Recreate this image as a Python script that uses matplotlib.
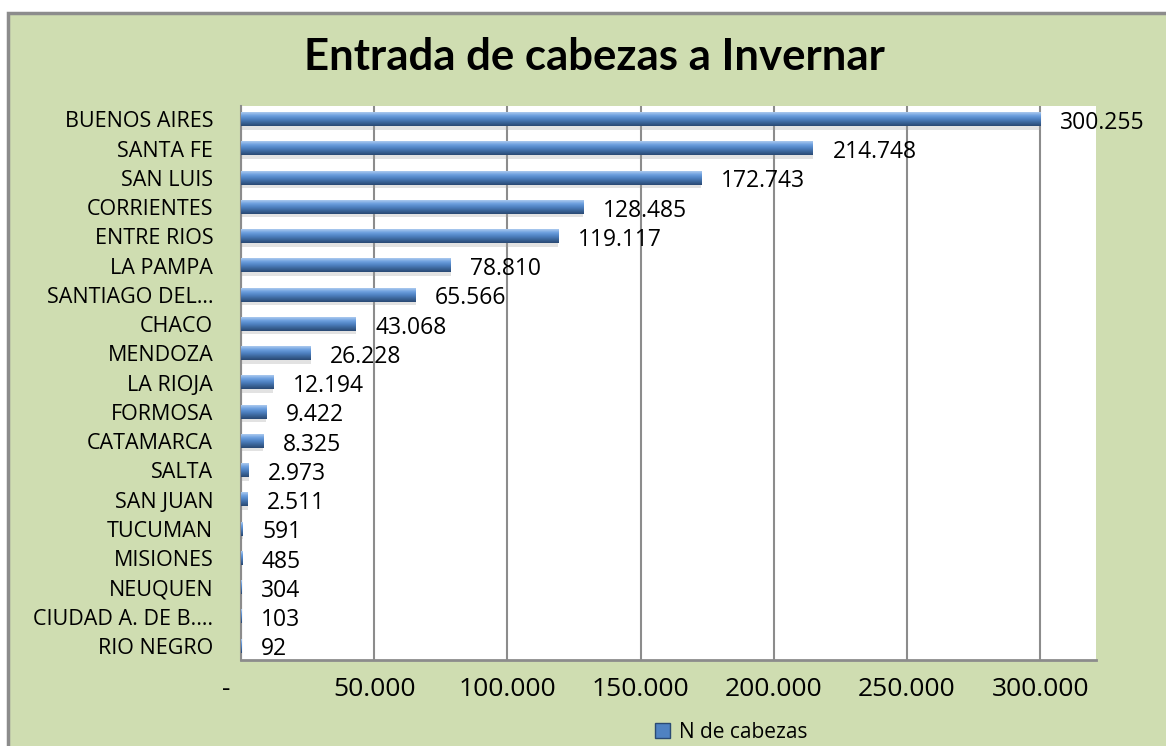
import numpy as np
import matplotlib.pyplot as plt
from matplotlib.patches import Rectangle, Patch
from matplotlib.colors import LinearSegmentedColormap
import matplotlib.transforms as mtransforms

plt.rcParams['font.family'] = ['Open Sans', 'DejaVu Sans']

### Data
provincias = ["BUENOS AIRES", "SANTA FE", "SAN LUIS", "CORRIENTES", "ENTRE RIOS",
              "LA PAMPA", "SANTIAGO DEL…", "CHACO", "MENDOZA", "LA RIOJA", "FORMOSA",
              "CATAMARCA", "SALTA", "SAN JUAN", "TUCUMAN", "MISIONES", "NEUQUEN",
              "CIUDAD A. DE B.…", "RIO NEGRO"]
cabezas = [300255, 214748, 172743, 128485, 119117, 78810, 65566, 43068, 26228,
           12194, 9422, 8325, 2973, 2511, 591, 485, 304, 103, 92]
x_ticks = [0, 50000, 100000, 150000, 200000, 250000, 300000]
x_labels = ["-", "50.000", "100.000", "150.000", "200.000", "250.000", "300.000"]
###

bg_green = "#CFDDB1"
bar_h = 0.45

fig = plt.figure(figsize=(11.66, 7.46), dpi=100, facecolor="white")
fig.patches.append(Rectangle((8/1166, -0.2), 1.2, 1.2 - 13/746, transform=fig.transFigure,
                             facecolor=bg_green, edgecolor="#8C8C8C", lw=2.5, zorder=-10))

ax = fig.add_axes([241/1166, 1 - 660/746, 855/1166, 554/746])
ax.set_facecolor("white")

# vertical gradient for the cylinder look (top light -> bottom dark)
grad = LinearSegmentedColormap.from_list("bar", ["#A9C8EE", "#6C9FDE", "#4F82C2", "#3B659A", "#2A4A74"])
g = grad(np.linspace(0, 1, 32))[:, None, :3]

y = np.arange(len(provincias))
for yi, v in zip(y, cabezas):
    # soft shadow
    ax.barh(yi + 0.12, v, height=bar_h, color="#A0A0A0", alpha=0.3, zorder=2, lw=0)
    ax.imshow(g, extent=(0, v, yi + bar_h/2, yi - bar_h/2), origin="upper",
              aspect="auto", zorder=3, interpolation="bilinear")
    ax.annotate(f"{v:,}".replace(",", "."), xy=(v, yi), xytext=(14, -2.5),
                textcoords="offset points", va="center", ha="left", fontsize=16.5,
                color="black", zorder=4, annotation_clip=False)

ax.set_xlim(0, 321000)
ax.set_ylim(18.48, -0.46)
ax.set_yticks(y)
ax.set_yticklabels(provincias, fontsize=15.5)
ax.set_xticks(x_ticks)
ax.set_xticklabels(x_labels, fontsize=19)
ax.tick_params(axis="y", length=0, pad=20)
ax.tick_params(axis="x", length=0, pad=12)
lab0 = ax.get_xticklabels()[0]
lab0.set_transform(lab0.get_transform() + mtransforms.ScaledTranslation(-15/100, 0, fig.dpi_scale_trans))

ax.grid(axis="x", color="#8C8C8C", lw=1.5, zorder=1)
ax.set_axisbelow(True)
for s in ["top", "right"]:
    ax.spines[s].set_visible(False)
ax.spines["left"].set_color("#8C8C8C")
ax.spines["left"].set_linewidth(1.5)
ax.spines["bottom"].set_color("#8C8C8C")
ax.spines["bottom"].set_linewidth(2)

fig.text(594/1166, 1 - 57/746, "Entrada de cabezas a Invernar", ha="center", va="center",
         fontsize=31.5, fontweight="bold", family="Lato")

handle = Patch(facecolor="#4F82C2", edgecolor="#2A4A74")
fig.legend([handle], ["N de cabezas"], loc="center", bbox_to_anchor=(731/1166, 1 - 732/746),
           frameon=False, fontsize=15, handlelength=0.75, handleheight=0.75, handletextpad=0.4,
           borderpad=0)

fig.savefig("out.png", dpi=100, facecolor=fig.get_facecolor())
